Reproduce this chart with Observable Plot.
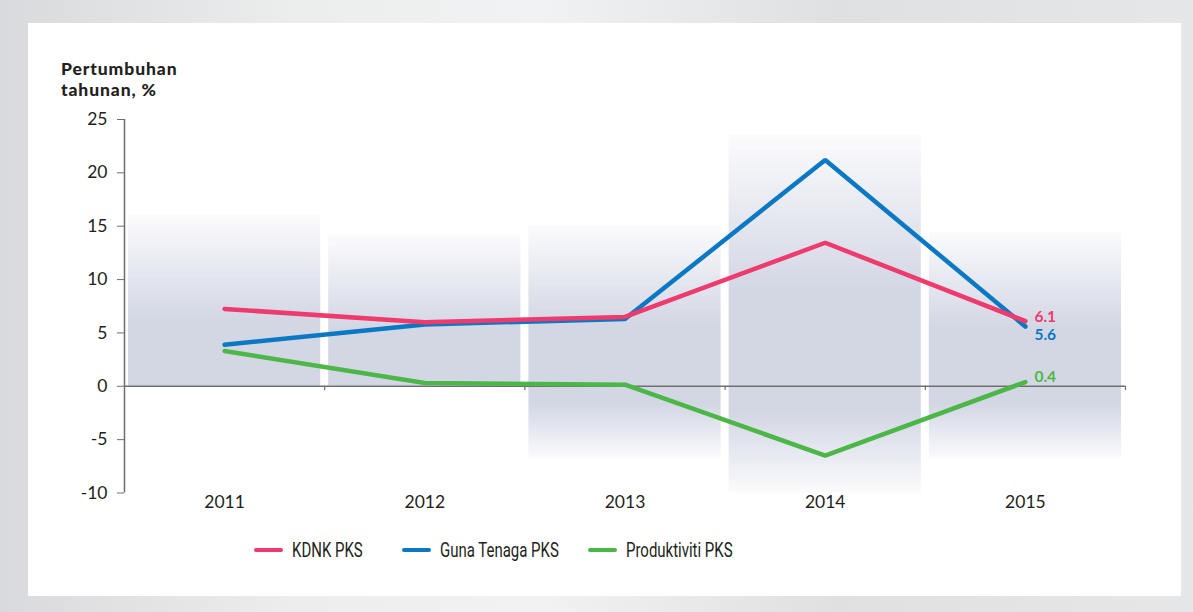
<!DOCTYPE html>
<html>
<head>
<meta charset="utf-8">
<script src="https://cdn.jsdelivr.net/npm/d3@7"></script>
<script src="https://cdn.jsdelivr.net/npm/@observablehq/plot@0.6"></script>
<style>
  html, body { margin: 0; padding: 0; }
  body {
    width: 1193px; height: 612px; position: relative; overflow: hidden;
    background: linear-gradient(to right, #d8dadd 0%, #eceded 25%, #f1f2f3 45%, #dfe0e2 70%, #e6e7e8 100%);
    font-family: Lato, "Open Sans", sans-serif;
  }
  #panel { position: absolute; left: 28px; top: 23px; width: 1153px; height: 573px; background: #fff; }
  .title { position: absolute; left: 33px; font-family: Lato, "Open Sans", sans-serif; font-weight: 900; font-size: 17.5px; line-height: 20px; color: #231f20; letter-spacing: 0.9px; white-space: nowrap; }
  #chart { position: absolute; left: 0; top: 0; }
  .item { position: absolute; top: 515px; height: 24px; display: flex; align-items: center; white-space: nowrap;
    font-family: Roboto, "Liberation Sans", sans-serif; font-size: 20.5px; color: #231f20; }
  .item span { display: inline-block; transform: scaleX(0.73); transform-origin: left center; }
  .sw { width: 29px; height: 4px; border-radius: 2px; margin-right: 9px; }
</style>
</head>
<body>
<div id="panel">
  <div class="title" style="top:36px">Pertumbuhan</div>
  <div class="title" style="top:57px">tahunan, %</div>
  <div id="chart"></div>
</div>
<script>
const years = [2011, 2012, 2013, 2014, 2015];
const seriesNames = ["KDNK PKS", "Guna Tenaga PKS", "Produktiviti PKS"];
const seriesColors = ["#ee3a6d", "#0a78c2", "#4cb748"];
const kdnk = [7.25, 6.0, 6.5, 13.45, 6.1];
const gunaTenaga = [3.9, 5.8, 6.3, 21.2, 5.6];
const produktiviti = [3.3, 0.3, 0.15, -6.5, 0.4];
const bgTop = [16.0, 14.1, 15.0, 23.5, 14.4];
const bgBottom = [0, 0, -6.8, -10, -6.8];
const yTicks = [-10, -5, 0, 5, 10, 15, 20, 25];
const legendLeft = [226, 374, 560];

const allValues = [kdnk, gunaTenaga, produktiviti];
const seriesData = allValues.map(vals => vals.map((v, i) => ({year: years[i], value: v})));
const bgData = years.map((y, i) => ({year: y, top: bgTop[i], bottom: bgBottom[i]}));
const boundaries = years.map(y => y + 0.5);
const endOffsets = [-4, 9, -5];

const bgColor = "#d3d7e4";
const defsMark = () => {
  const defs = d3.create("svg:defs");
  const gp = defs.append("linearGradient").attr("id", "gPos").attr("x1", 0).attr("y1", 0).attr("x2", 0).attr("y2", 1);
  gp.append("stop").attr("offset", 0).attr("stop-color", "#fbfbfd");
  gp.append("stop").attr("offset", 0.62).attr("stop-color", bgColor);
  gp.append("stop").attr("offset", 1).attr("stop-color", bgColor);
  const gn = defs.append("linearGradient").attr("id", "gNeg").attr("x1", 0).attr("y1", 0).attr("x2", 0).attr("y2", 1);
  gn.append("stop").attr("offset", 0).attr("stop-color", bgColor);
  gn.append("stop").attr("offset", 0.25).attr("stop-color", bgColor);
  gn.append("stop").attr("offset", 1).attr("stop-color", "#fbfbfd");
  return defs.node();
};

const axisColor = "#6d6e71";
const drawOrder = [2, 1, 0];
const plot = Plot.plot({
  width: 1153, height: 500,
  marginLeft: 96, marginRight: 56, marginTop: 96, marginBottom: 30.5,
  x: {type: "linear", domain: [years[0] - 0.5, years[years.length - 1] + 0.5]},
  y: {domain: [yTicks[0], yTicks[yTicks.length - 1]]},
  style: {fontFamily: "Lato, 'Open Sans', sans-serif", fontSize: "17px", color: "#231f20", background: "transparent", overflow: "visible"},
  marks: [
    defsMark,
    Plot.rect(bgData, {x1: d => d.year - 0.5, x2: d => d.year + 0.5, y1: 0, y2: d => d.top, insetLeft: 4, insetRight: 4, fill: "url(#gPos)"}),
    Plot.rect(bgData.filter(d => d.bottom < 0), {x1: d => d.year - 0.5, x2: d => d.year + 0.5, y1: d => d.bottom, y2: 0, insetLeft: 4, insetRight: 4, fill: "url(#gNeg)"}),
    Plot.ruleY([0], {stroke: axisColor, strokeWidth: 1.5}),
    Plot.ruleX(boundaries, {y1: 0, y2: -0.4, stroke: axisColor, strokeWidth: 1.2}),
    Plot.ruleX([years[0] - 0.5], {y1: yTicks[0], y2: yTicks[yTicks.length - 1], stroke: axisColor, strokeWidth: 1.5}),
    Plot.axisY(yTicks, {tickSize: 7, tickPadding: 10, tickFormat: d => String(d), label: null, stroke: axisColor, fontSize: 17.5}),
    Plot.axisX(years, {tickSize: 0, tickPadding: 3, tickFormat: d => String(d), label: null, fontSize: 17.5}),
    ...drawOrder.map(si => Plot.line(seriesData[si], {x: "year", y: "value", stroke: seriesColors[si], strokeWidth: 4.5, strokeLinecap: "round", strokeLinejoin: "miter"})),
    ...drawOrder.map(si => Plot.text([seriesData[si][seriesData[si].length - 1]], {x: "year", y: "value", text: d => String(d.value), fill: seriesColors[si], dx: 9, dy: endOffsets[si], textAnchor: "start", fontWeight: 700, fontSize: 15.5}))
  ]
});
document.getElementById("chart").appendChild(plot);

const panel = document.getElementById("panel");
seriesNames.forEach((n, i) => {
  const it = document.createElement("div"); it.className = "item"; it.style.left = legendLeft[i] + "px";
  const sw = document.createElement("div"); sw.className = "sw"; sw.style.background = seriesColors[i];
  const t = document.createElement("span"); t.textContent = n;
  it.appendChild(sw); it.appendChild(t); panel.appendChild(it);
});
</script>
</body>
</html>
